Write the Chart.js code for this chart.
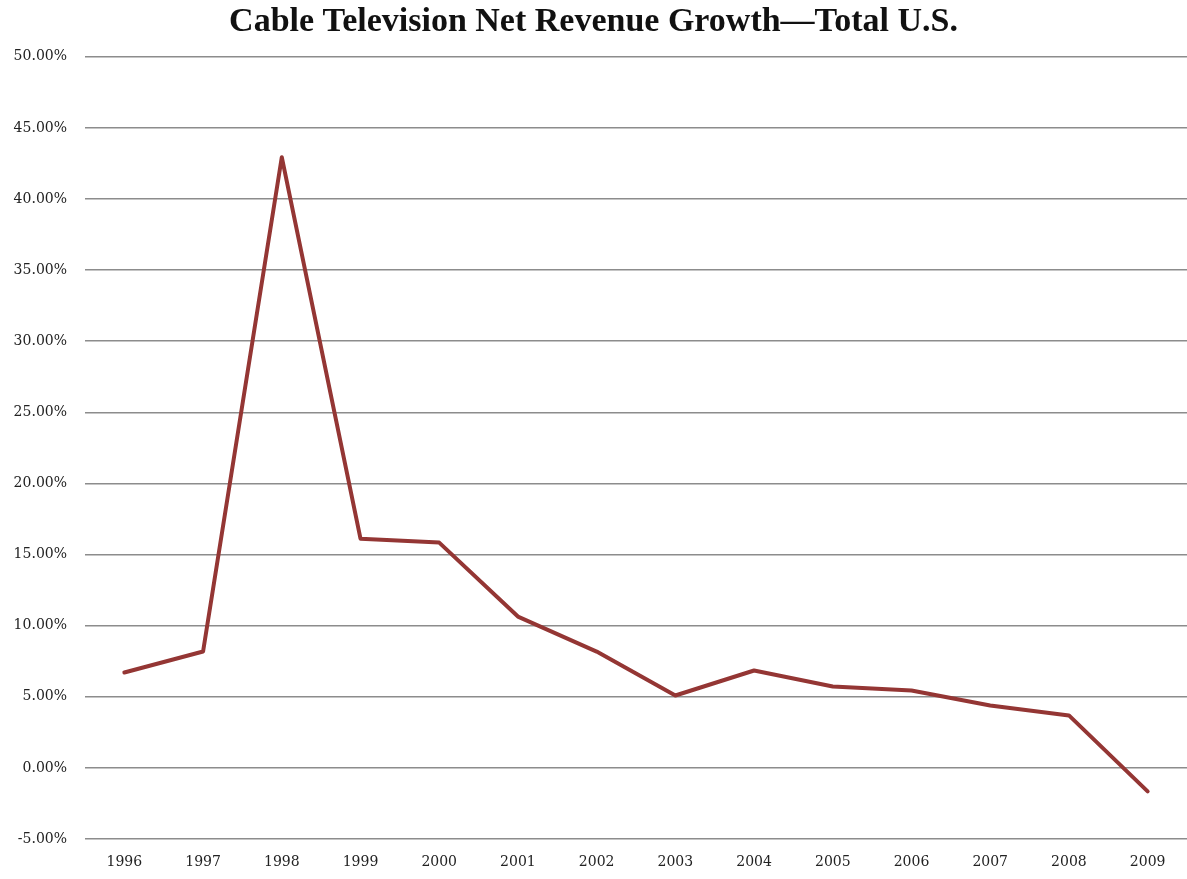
<!DOCTYPE html>
<html>
<head>
<meta charset="utf-8">
<title>Cable Television Net Revenue Growth</title>
<script src="https://cdn.jsdelivr.net/npm/chart.js@4.4.1/dist/chart.umd.min.js"></script>
<style>
  html, body { margin: 0; padding: 0; background: #fff; }
  #wrap { width: 1187px; height: 879px; }
</style>
</head>
<body>
<div id="wrap"><canvas id="growth"></canvas></div>
<script>
const years = ['1996', '1997', '1998', '1999', '2000', '2001', '2002',
  '2003', '2004', '2005', '2006', '2007', '2008', '2009'];
// net revenue growth, percent
const growth = [6.71, 8.18, 42.94, 16.12, 15.84, 10.64, 8.18,
  5.09, 6.85, 5.72, 5.44, 4.39, 3.69, -1.65];
const yMin = -5;
const yMax = 50;
const yStep = 5;

const tickFont = { family: "'DejaVu Serif', serif", size: 14 };

new Chart(document.getElementById('growth'), {
  type: 'line',
  data: {
    labels: years,
    datasets: [{
      data: growth,
      borderColor: '#943634',
      borderWidth: 4,
      borderJoinStyle: 'round',
      borderCapStyle: 'round',
      pointRadius: 0,
      tension: 0,
      fill: false,
    }]
  },
  options: {
    responsive: true,
    maintainAspectRatio: false,
    animation: false,
    layout: { padding: { left: 0, right: 0, top: 0, bottom: 0 } },
    plugins: {
      legend: { display: false },
      tooltip: { enabled: false },
      title: {
        display: true,
        text: 'Cable Television Net Revenue Growth\u2014Total U.S.',
        color: '#111',
        font: { family: "'Liberation Serif', serif", size: 34, weight: 'bold', lineHeight: 1.2 },
        padding: { top: 2, bottom: 14 },
      },
    },
    scales: {
      x: {
        offset: true,
        grid: { display: false, drawTicks: false },
        border: { display: false },
        ticks: { color: '#222', font: tickFont, padding: 15, maxRotation: 0 },
        afterFit: (scale) => { scale.height = 40; },
      },
      y: {
        min: yMin,
        max: yMax,
        grid: { color: '#8c8c8c', lineWidth: 1.5, drawTicks: false },
        border: { display: false },
        ticks: {
          stepSize: yStep,
          color: '#222',
          font: tickFont,
          padding: 18,
          callback: (v) => v.toFixed(2) + '%',
        },
        afterFit: (scale) => { scale.width = 85; },
      }
    }
  }
});
</script>
</body>
</html>
